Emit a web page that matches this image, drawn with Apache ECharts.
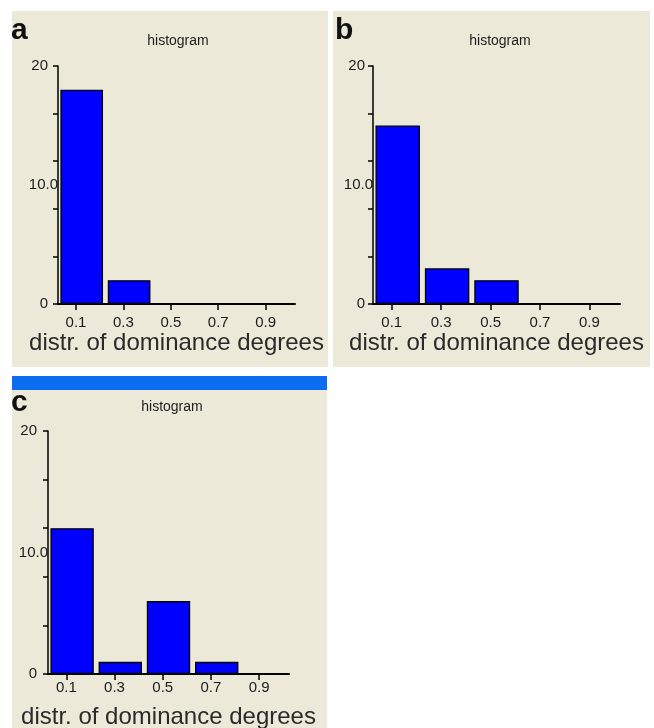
<!DOCTYPE html>
<html>
<head>
<meta charset="utf-8">
<script src="https://cdn.jsdelivr.net/npm/echarts@6/dist/echarts.min.js"></script>
<style>
html,body{margin:0;padding:0;background:#fff;}
#c{width:654px;height:728px;}
</style>
</head>
<body>
<div id="c"></div>
<script>
// ---- data ----
const categories = ['0.1', '0.3', '0.5', '0.7', '0.9'];
const countsA = [18, 2, 0, 0, 0];
const countsB = [15, 3, 2, 0, 0];
const countsC = [12, 1, 6, 1, 0];
const yMin = 0, yMax = 20, yTickInterval = 4;
const yLabelEnds = [0, 20];
const yLabelMid = [10];
const panelLetters = ['a', 'b', 'c'];
const chartTitle = 'histogram';
const xAxisName = 'distr. of dominance degrees';

const FONT = '"Liberation Sans", Arial, sans-serif';
const TXT = '#1c1c1c';
const BEIGE = '#ECE9D8';

// layout per panel
const panels = [
  {data: countsA, grid: {left: 58, top: 66, width: 237, height: 238}, lblMargin: 11, nameGap: 27, yLblMargin: 10, midMargin: 0, titleX: 178, titleY: 41, letterX: 11, letterY: 31},
  {data: countsB, grid: {left: 373, top: 66, width: 247, height: 238}, lblMargin: 11, nameGap: 27, yLblMargin: 8, midMargin: 0, titleX: 500, titleY: 41, letterX: 335, letterY: 31},
  {data: countsC, grid: {left: 48, top: 431, width: 241, height: 243}, lblMargin: 6, nameGap: 31, yLblMargin: 11, midMargin: 0, titleX: 172, titleY: 407, letterX: 11, letterY: 403}
];

const tickVals = categories.map(Number);
const tickShift = 0.024;

const grids = [], xAxes = [], yAxes = [], series = [];
const axisLineStyle = {color: '#000', width: 1.5};
panels.forEach((p, i) => {
  grids.push(Object.assign({outerBoundsMode: 'none', containLabel: false}, p.grid));
  // category axis carrying the bars
  xAxes.push({
    type: 'category', gridIndex: i, position: 'bottom', data: categories,
    axisLine: {show: true, lineStyle: {color: '#000', width: 2}},
    axisTick: {show: false}, axisLabel: {show: false}, splitLine: {show: false}
  });
  // value axis carrying tick marks, labels and name
  xAxes.push({
    type: 'value', gridIndex: i, position: 'bottom', min: tickShift, max: 1 + tickShift,
    axisLine: {show: false}, splitLine: {show: false},
    axisTick: {show: true, length: 6, customValues: tickVals, lineStyle: axisLineStyle},
    axisLabel: {customValues: tickVals, formatter: v => Number(v).toFixed(1), margin: p.lblMargin,
      fontSize: 15, color: TXT, fontFamily: FONT},
    name: xAxisName, nameLocation: 'middle', nameGap: p.nameGap,
    nameTextStyle: {fontSize: 24, color: '#2a2a2a', fontFamily: FONT}
  });
  yAxes.push({
    type: 'value', gridIndex: i, position: 'left', min: yMin, max: yMax, interval: yTickInterval,
    axisLine: {show: true, lineStyle: axisLineStyle},
    axisTick: {show: true, length: 5, lineStyle: axisLineStyle},
    axisLabel: {show: false}, splitLine: {show: false}
  });
  yAxes.push({
    type: 'value', gridIndex: i, position: 'left', min: yMin, max: yMax,
    axisLine: {show: false}, axisTick: {show: false}, splitLine: {show: false},
    axisLabel: {customValues: yLabelEnds, formatter: v => String(v), margin: p.yLblMargin,
      fontSize: 15, color: TXT, fontFamily: FONT}
  });
  yAxes.push({
    type: 'value', gridIndex: i, position: 'left', min: yMin, max: yMax,
    axisLine: {show: false}, axisTick: {show: false}, splitLine: {show: false},
    axisLabel: {customValues: yLabelMid, formatter: v => Number(v).toFixed(1), margin: p.midMargin,
      fontSize: 15, color: TXT, fontFamily: FONT}
  });
  series.push({
    type: 'bar', xAxisIndex: 2 * i, yAxisIndex: 3 * i, data: p.data,
    barCategoryGap: '10%',
    itemStyle: {color: '#0000ff', borderColor: '#000', borderWidth: 1.3},
    z: 3
  });
});

const graphic = [
  {type: 'rect', shape: {x: 12, y: 11, width: 316, height: 356}, style: {fill: BEIGE}, z: -10},
  {type: 'rect', shape: {x: 333, y: 11, width: 317, height: 356}, style: {fill: BEIGE}, z: -10},
  {type: 'rect', shape: {x: 12, y: 376, width: 315, height: 14}, style: {fill: '#0b6cf0'}, z: -10},
  {type: 'rect', shape: {x: 12, y: 390, width: 315, height: 338}, style: {fill: BEIGE}, z: -10}
];
panels.forEach((p, i) => {
  graphic.push({type: 'text', z: 10, style: {text: panelLetters[i], x: p.letterX, y: p.letterY,
    align: 'left', verticalAlign: 'middle', font: 'bold 30px ' + FONT, fill: '#111'}});
  graphic.push({type: 'text', z: 10, style: {text: chartTitle, x: p.titleX, y: p.titleY,
    align: 'center', verticalAlign: 'middle', font: '14px ' + FONT, fill: TXT}});
});

const chart = echarts.init(document.getElementById('c'), null, {renderer: 'canvas'});
chart.setOption({
  backgroundColor: '#ffffff',
  animation: false,
  grid: grids,
  xAxis: xAxes,
  yAxis: yAxes,
  series: series,
  graphic: graphic
});
</script>
</body>
</html>
